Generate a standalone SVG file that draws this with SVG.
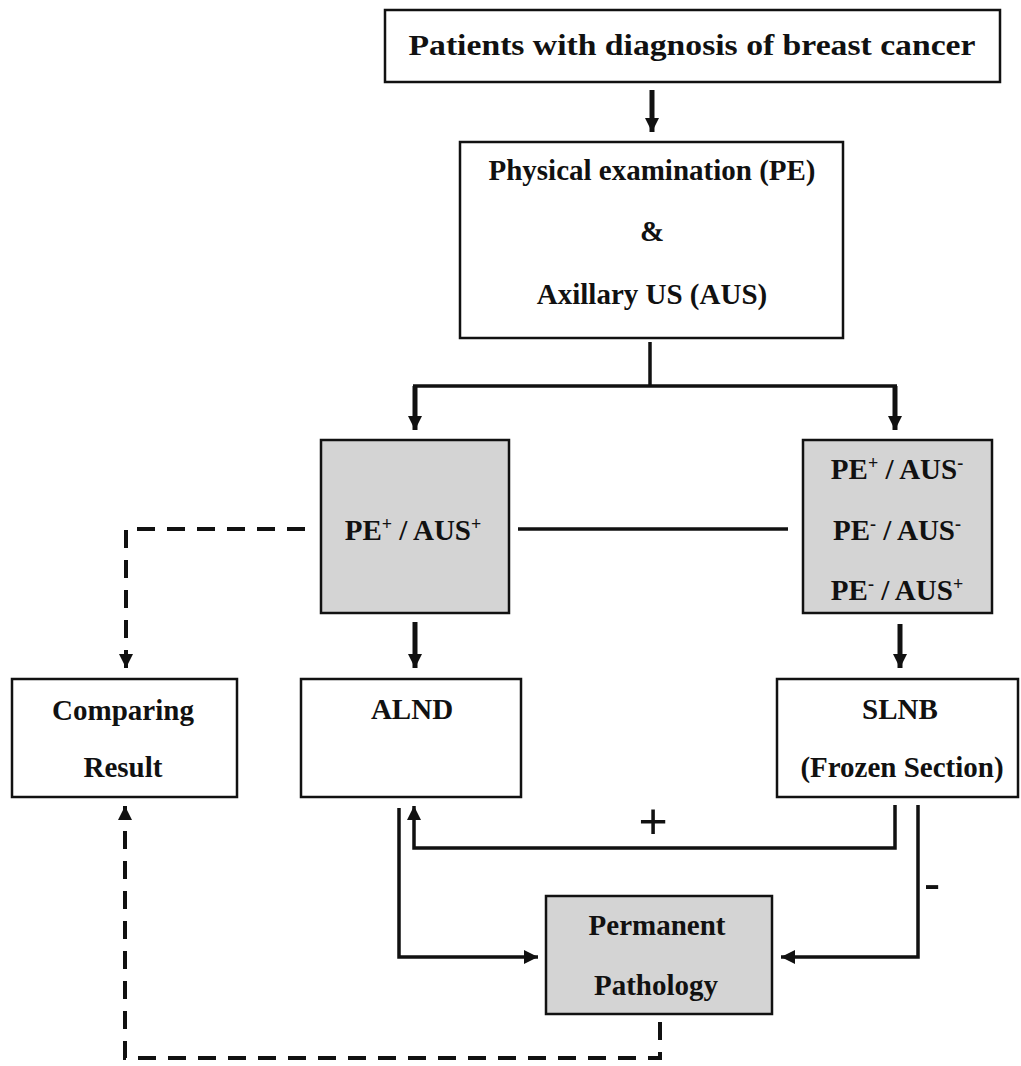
<svg xmlns="http://www.w3.org/2000/svg" width="1021" height="1066" viewBox="0 0 1021 1066">
<style>
.box{fill:#fff;stroke:#111;stroke-width:2.5}
.gbox{fill:#d4d4d4;stroke:#111;stroke-width:2.5}
.t{font-family:"Liberation Serif","Times New Roman",serif;font-weight:bold;font-size:29px;fill:#111;text-anchor:middle}
.sup{font-size:18px}
.c{fill:none;stroke:#111;stroke-width:3.5}
.thick{fill:none;stroke:#111;stroke-width:5}
.d{fill:none;stroke:#111;stroke-width:4;stroke-dasharray:18 12}
.sym{font-family:"Liberation Sans",Arial,sans-serif;font-size:50px;fill:#111;text-anchor:middle}
</style>
<defs>
<marker id="ah" markerUnits="userSpaceOnUse" markerWidth="16" markerHeight="16" refX="14" refY="7" orient="auto" viewBox="0 0 16 14">
<path d="M0,0 L14,7 L0,14 z" fill="#111"/>
</marker>
</defs>
<rect width="1021" height="1066" fill="#fff"/>

<g id="n-patients">
<rect class="box" x="385" y="10" width="615" height="72"/>
<text class="t" x="692" y="55" textLength="567" lengthAdjust="spacingAndGlyphs">Patients with diagnosis of breast cancer</text>
</g>
<g id="n-pe-aus">
<rect class="box" x="460" y="142" width="383" height="196"/>
<text class="t" x="652" y="180">Physical examination (PE)</text>
<text class="t" x="652" y="241">&amp;</text>
<text class="t" x="652" y="304">Axillary US (AUS)</text>
</g>
<g id="n-pos">
<rect class="gbox" x="321" y="440" width="188" height="173"/>
<text class="t" x="413" y="540">PE<tspan class="sup" dy="-10">+</tspan><tspan dy="10"> / AUS</tspan><tspan class="sup" dy="-10">+</tspan></text>
</g>
<g id="n-others">
<rect class="gbox" x="803" y="440" width="189" height="173"/>
<text class="t" x="897" y="479">PE<tspan class="sup" dy="-10">+</tspan><tspan dy="10"> / AUS</tspan><tspan class="sup" dy="-10">-</tspan></text>
<text class="t" x="897" y="540">PE<tspan class="sup" dy="-10">-</tspan><tspan dy="10"> / AUS</tspan><tspan class="sup" dy="-10">-</tspan></text>
<text class="t" x="897" y="600">PE<tspan class="sup" dy="-10">-</tspan><tspan dy="10"> / AUS</tspan><tspan class="sup" dy="-10">+</tspan></text>
</g>
<g id="n-comparing">
<rect class="box" x="12" y="679" width="225" height="118"/>
<text class="t" x="123" y="720">Comparing</text>
<text class="t" x="123" y="777">Result</text>
</g>
<g id="n-alnd">
<rect class="box" x="301" y="679" width="220" height="118"/>
<text class="t" x="412" y="719">ALND</text>
</g>
<g id="n-slnb">
<rect class="box" x="777" y="679" width="241" height="118"/>
<text class="t" x="900" y="719">SLNB</text>
<text class="t" x="902" y="777">(Frozen Section)</text>
</g>
<g id="n-permanent">
<rect class="gbox" x="546" y="896" width="226" height="118"/>
<text class="t" x="657" y="935">Permanent</text>
<text class="t" x="656" y="995">Pathology</text>
</g>

<g id="connectors">
<path class="thick" d="M652,90 V132" marker-end="url(#ah)"/>
<path class="c" d="M650,342 V386"/>
<path class="c" d="M413,386 H897"/>
<path class="thick" d="M415,386 V430" marker-end="url(#ah)"/>
<path class="thick" d="M895,386 V430" marker-end="url(#ah)"/>
<path class="c" d="M518,529 H788"/>
<path class="thick" d="M415,622 V668" marker-end="url(#ah)"/>
<path class="thick" d="M900,624 V668" marker-end="url(#ah)"/>
<path class="d" d="M305,529 H126 V668" marker-end="url(#ah)"/>
<path class="c" d="M895,805 V848 H414 V806" marker-end="url(#ah)"/>
<path class="c" d="M399,808 V957 H538" marker-end="url(#ah)"/>
<path class="c" d="M918,805 V957 H781" marker-end="url(#ah)"/>
<path class="d" d="M660,1022 V1058 H125 V806" marker-end="url(#ah)"/>
<text class="sym" x="653" y="838">+</text>
<text class="sym" x="932" y="900">-</text>
</g>
</svg>
